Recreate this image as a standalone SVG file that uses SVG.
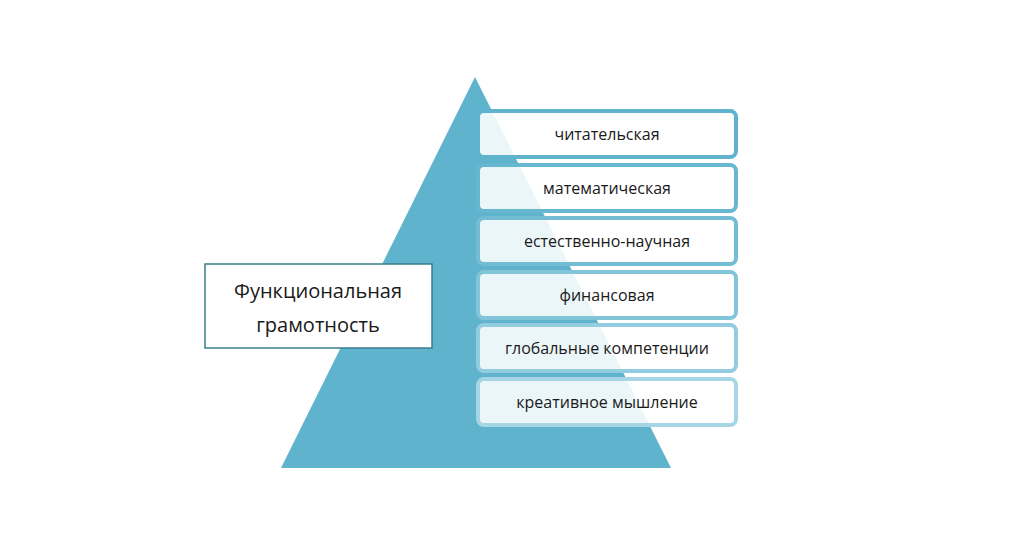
<svg xmlns="http://www.w3.org/2000/svg" width="1024" height="539" viewBox="0 0 1024 539">
<style>
.b{fill:#fff;fill-opacity:0.88;stroke-width:4}
.t{font-family:"Open Sans","Liberation Sans",sans-serif;font-size:16px;fill:#1a1a1a;text-anchor:middle}
.m{font-family:"Open Sans","Liberation Sans",sans-serif;font-size:20px;fill:#1a1a1a;text-anchor:middle}
</style>
<rect width="1024" height="539" fill="#fff"/>
<g id="pyramid"><polygon points="475,77 281,468 671,468" fill="#5fb3cc"/></g>
<g id="main"><rect x="205" y="264" width="227" height="84" fill="#fff" stroke="#3a7d8f" stroke-width="1.5"/>
<text class="m" x="318" y="298">Функциональная</text><text class="m" x="318" y="332">грамотность</text></g>
<g id="n1"><rect class="b" x="478" y="111" width="258" height="46" rx="6" stroke="#5fb3cc"/><text class="t" x="607" y="140">читательская</text></g>
<g id="n2"><rect class="b" x="478" y="165" width="258" height="46" rx="6" stroke="#66b7cf"/><text class="t" x="607" y="194">математическая</text></g>
<g id="n3"><rect class="b" x="478" y="218" width="258" height="46" rx="6" stroke="#72bdd3"/><text class="t" x="607" y="247">естественно-научная</text></g>
<g id="n4"><rect class="b" x="478" y="272" width="258" height="46" rx="6" stroke="#82c5d9"/><text class="t" x="607" y="301">финансовая</text></g>
<g id="n5"><rect class="b" x="478" y="325" width="258" height="46" rx="6" stroke="#92cddf"/><text class="t" x="607" y="354">глобальные компетенции</text></g>
<g id="n6"><rect class="b" x="478" y="379" width="258" height="46" rx="6" stroke="#a6d6e5"/><text class="t" x="607" y="408">креативное мышление</text></g>
<g id="connectors"/>
</svg>
